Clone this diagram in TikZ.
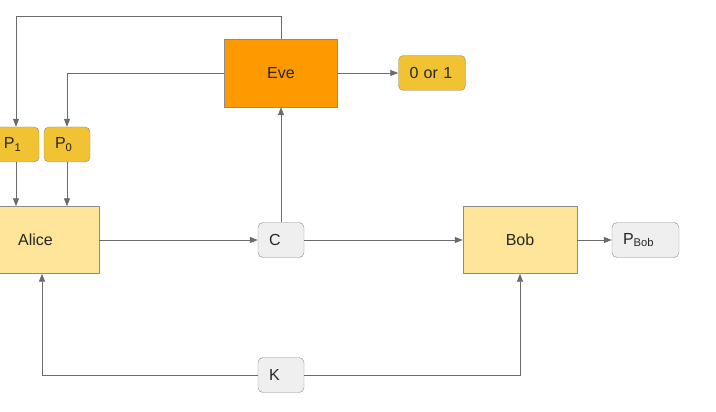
\documentclass[tikz,border=0pt]{standalone}
\usepackage{fontspec}
\setmainfont{Liberation Sans}
\usetikzlibrary{arrows.meta, positioning}
\definecolor{eveorange}{HTML}{FF9900}
\definecolor{partyyellow}{HTML}{FFE599}
\definecolor{padgold}{HTML}{F1C232}
\definecolor{boxgray}{HTML}{EFEFEF}
\definecolor{bordergray}{HTML}{8C8C8C}
\definecolor{linegray}{HTML}{6B6B6B}

\begin{document}
\begin{tikzpicture}[
	x = 1pt, y = 1pt,
	on grid,
	> = {Triangle[length=8pt,width=6pt]},
	every node/.style = {font=\fontsize{16pt}{19pt}\selectfont, text=black!85},
	party/.style = {draw=bordergray, fill=partyyellow, minimum width=114pt, minimum height=67pt, inner sep=0pt},
	pad/.style = {draw=bordergray, fill=padgold, rounded corners=5pt, minimum width=46pt, minimum height=35pt,
		inner ysep=0pt, inner xsep=11pt, text width=24pt, align=left},
	widepad/.style = {pad, minimum width=67pt, text width=45pt},
	msg/.style = {pad, fill=boxgray},
	wire/.style = {draw=linegray, line width=0.8pt},
	every edge/.style = {wire}
	]
	\useasboundingbox (0,0) rectangle (716,-412);
	\node[party] (Alice) at (42,-240) {\hspace*{-13pt}Alice};
	\node[msg] (C) [right=239pt of Alice] {C};
	\node[party] (Bob) [right=239pt of C] {Bob};
	\node[msg, widepad, fill=boxgray] (PBob) [right=125.5pt of Bob] {P\textsubscript{Bob}};
	\node[msg] (K) [below=135pt of C] {K};
	\node[party, fill=eveorange, minimum width=113pt, minimum height=68pt] (Eve) [above=167pt of C] {Eve};
	\node[widepad] (Bit) [right=151pt of Eve] {0 or 1};
	\node[pad] (P0) [above right=95.5pt and 25pt of Alice] {P\textsubscript{0}};
	\node[pad] (P1) [left=51pt of P0] {P\textsubscript{1}};
	\path[->]
	(Alice) edge (C)
	(C) edge (Bob)
	(Bob) edge (PBob)
	(C) edge (Eve)
	(Eve) edge (Bit)
	(P1) edge (P1 |- Alice.north)
	(P0) edge (P0 |- Alice.north);
	\draw[wire, ->] (Eve.north) -- ++(0,22) -| (P1);
	\draw[wire, ->] (Eve.west) -| (P0);
	\draw[wire, ->] (K) -| (Alice);
	\draw[wire, ->] (K) -| (Bob);
\end{tikzpicture}
\end{document}
